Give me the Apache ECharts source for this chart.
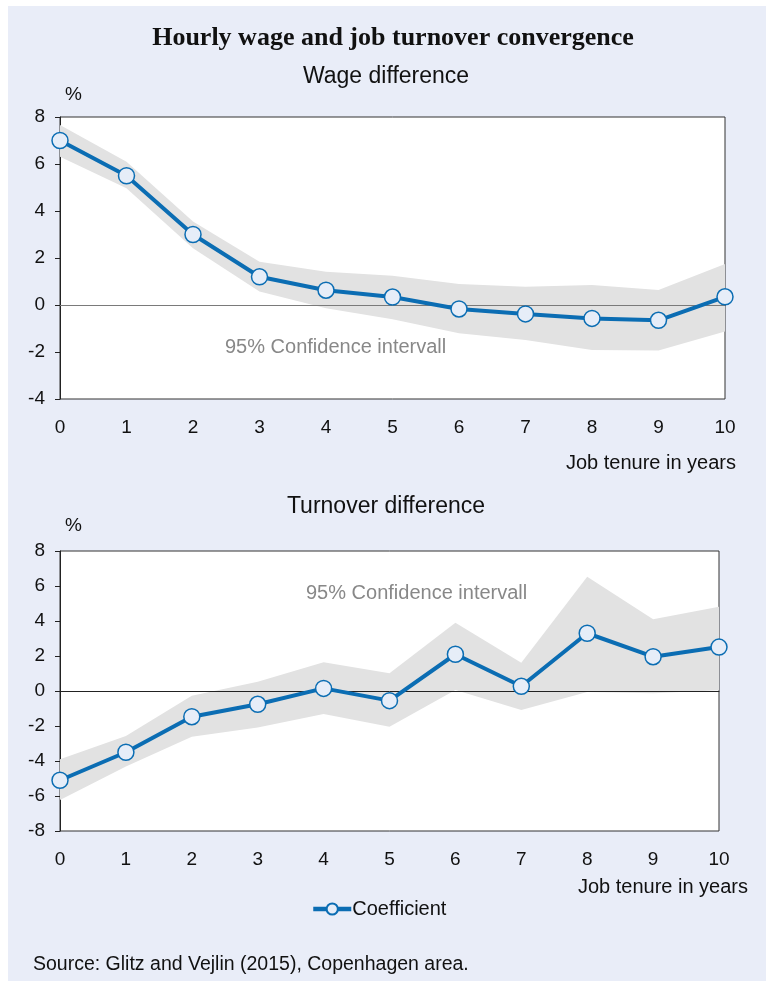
<!DOCTYPE html>
<html>
<head>
<meta charset="utf-8">
<script src="https://cdn.jsdelivr.net/npm/echarts@6/dist/echarts.min.js"></script>
<style>
  html, body { margin:0; padding:0; background:#fff; }
  #panel { position:absolute; left:8px; top:6px; right:0; bottom:0; background:#E9EDF8; }
  #chart { position:absolute; left:0; top:0; width:766px; height:981px; }
</style>
</head>
<body>
<div id="panel"></div>
<div id="chart"></div>
<script>
const years = ['0', '1', '2', '3', '4', '5', '6', '7', '8', '9', '10'];
const wageCoef  = [7.0, 5.5, 3.0, 1.2, 0.63, 0.34, -0.17, -0.38, -0.57, -0.65, 0.35];
const wageUpper = [7.66, 6.1, 3.55, 1.84, 1.42, 1.25, 0.89, 0.78, 0.85, 0.64, 1.74];
const wageLower = [6.31, 4.97, 2.41, 0.57, -0.14, -0.61, -1.2, -1.49, -1.91, -1.94, -1.13];
const turnCoef  = [-5.1, -3.5, -1.47, -0.76, 0.15, -0.55, 2.1, 0.27, 3.3, 1.96, 2.51];
const turnUpper = [-3.9, -2.57, -0.27, 0.53, 1.64, 1.01, 3.9, 1.62, 6.53, 4.1, 4.82];
const turnLower = [-6.23, -4.32, -2.61, -2.08, -1.31, -2.04, 0.06, -1.09, -0.05, -0.13, 0.05];

const FONT = 'Liberation Sans, Arial, sans-serif';
const BLUE = '#0B6DB3';
const BAND = '#E2E2E2';

function diff(a, b) { return a.map((v, i) => +(v - b[i]).toFixed(4)); }

function bandSeries(idx, lower, upper, stackName, zeroColor) {
  return [
    {
      type: 'line', name: 'lower' + idx, xAxisIndex: idx, yAxisIndex: idx,
      stack: stackName, stackStrategy: 'all',
      data: lower, symbol: 'none', lineStyle: { opacity: 0 }, silent: true, z: 1
    },
    {
      type: 'line', name: 'band' + idx, xAxisIndex: idx, yAxisIndex: idx,
      stack: stackName, stackStrategy: 'all',
      data: diff(upper, lower), symbol: 'none', lineStyle: { opacity: 0 },
      areaStyle: { color: BAND, opacity: 1 }, silent: true, z: 1,
      markLine: {
        silent: true, symbol: 'none', label: { show: false },
        lineStyle: { color: zeroColor, width: 1, type: 'solid' },
        data: [{ yAxis: 0 }], animation: false
      }
    }
  ];
}

function coefSeries(idx, vals) {
  return {
    type: 'line', name: 'Coefficient', xAxisIndex: idx, yAxisIndex: idx,
    data: vals, symbol: 'circle', symbolSize: 16,
    lineStyle: { color: BLUE, width: 4 },
    itemStyle: { color: '#E6EDF8', borderColor: BLUE, borderWidth: 1.5 },
    z: 5
  };
}

function xAxisCfg(idx) {
  return {
    type: 'category', gridIndex: idx, data: years, boundaryGap: false,
    axisLine: { show: true, lineStyle: { color: '#222', width: 1 } },
    axisTick: { show: false },
    splitLine: { show: false },
    axisLabel: { color: '#111', fontSize: 19, fontFamily: FONT, margin: 19, interval: 0 }
  };
}
function yAxisCfg(idx, min, max) {
  return {
    type: 'value', gridIndex: idx, min: min, max: max, interval: 2,
    axisLine: { show: true, lineStyle: { color: '#222', width: 1 } },
    axisTick: { show: true, inside: false, length: 5, lineStyle: { color: '#222' } },
    splitLine: { show: false },
    axisLabel: { color: '#111', fontSize: 19, fontFamily: FONT, margin: 15 }
  };
}

const chart = echarts.init(document.getElementById('chart'), null, { renderer: 'canvas' });
chart.setOption({
  animation: false,
  backgroundColor: 'transparent',
  title: [
    { text: 'Hourly wage and job turnover convergence', left: 388, top: 20, textAlign: 'center',
      textStyle: { fontFamily: 'Liberation Serif, Times New Roman, serif', fontWeight: 'bold', fontSize: 26, color: '#111' } },
    { text: 'Wage difference', left: 381, top: 60, textAlign: 'center',
      textStyle: { fontFamily: FONT, fontWeight: 'normal', fontSize: 23, color: '#111' } },
    { text: 'Turnover difference', left: 381, top: 490, textAlign: 'center',
      textStyle: { fontFamily: FONT, fontWeight: 'normal', fontSize: 23, color: '#111' } }
  ],
  grid: [
    { left: 60, top: 117, width: 665, height: 282, show: true, backgroundColor: '#fff', borderColor: '#333', borderWidth: 1 },
    { left: 60, top: 551, width: 659, height: 280, show: true, backgroundColor: '#fff', borderColor: '#333', borderWidth: 1 }
  ],
  xAxis: [xAxisCfg(0), xAxisCfg(1)],
  yAxis: [yAxisCfg(0, -4, 8), yAxisCfg(1, -8, 8)],
  legend: {
    data: ['Coefficient'], left: 306, top: 894, itemWidth: 38, itemHeight: 14, itemGap: 2,
    lineStyle: { width: 4.5 },
    textStyle: { fontFamily: FONT, fontSize: 20, color: '#111', padding: [0, 0, 0, -4] }
  },
  graphic: [
    { type: 'text', left: 65, top: 85, style: { text: '%', font: '19px ' + FONT, fill: '#111' } },
    { type: 'text', left: 65, top: 516, style: { text: '%', font: '19px ' + FONT, fill: '#111' } },
    { type: 'text', right: 30, top: 453, style: { text: 'Job tenure in years', font: '20px ' + FONT, fill: '#111' } },
    { type: 'text', right: 18, top: 877, style: { text: 'Job tenure in years', font: '20px ' + FONT, fill: '#111' } },
    { type: 'text', left: 225, top: 337, z: 10, style: { text: '95% Confidence intervall', font: '20px ' + FONT, fill: '#888' } },
    { type: 'text', left: 306, top: 583, z: 10, style: { text: '95% Confidence intervall', font: '20px ' + FONT, fill: '#888' } },
    { type: 'text', left: 33, top: 955, style: { text: 'Source: Glitz and Vejlin (2015), Copenhagen area.', font: '19.5px ' + FONT, fill: '#111' } }
  ],
  series: [
    ...bandSeries(0, wageLower, wageUpper, 'wage', '#7a7a7a'),
    coefSeries(0, wageCoef),
    ...bandSeries(1, turnLower, turnUpper, 'turn', '#222'),
    coefSeries(1, turnCoef)
  ]
});
</script>
</body>
</html>
